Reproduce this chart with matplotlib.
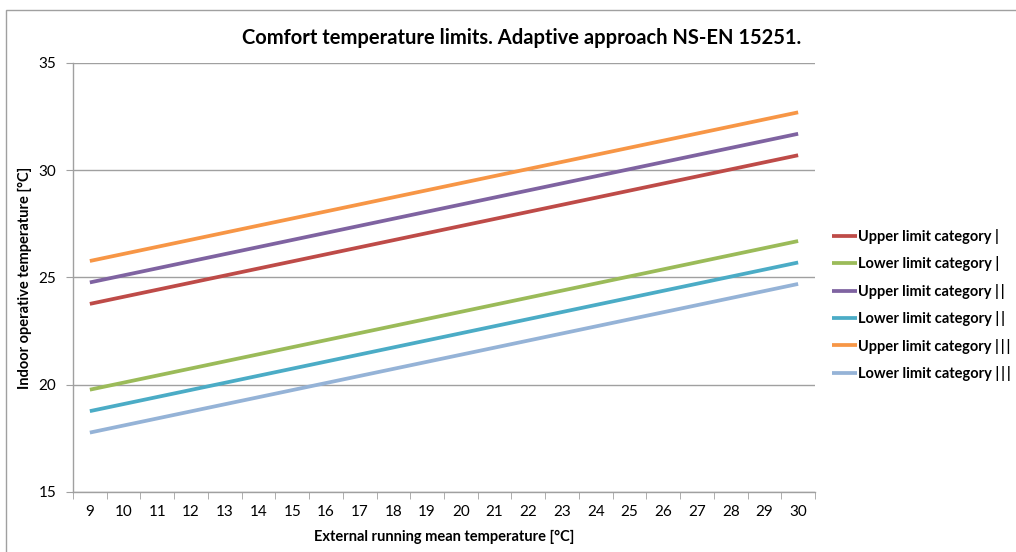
import matplotlib
matplotlib.use("Agg")
import matplotlib.pyplot as plt
from matplotlib.patches import Rectangle

plt.rcParams['font.family'] = ['Lato', 'DejaVu Sans']

temps = list(range(9, 31))
upper_1 = [23.77, 24.10, 24.43, 24.76, 25.09, 25.42, 25.75, 26.08, 26.41, 26.74, 27.07,
           27.40, 27.73, 28.06, 28.39, 28.72, 29.05, 29.38, 29.71, 30.04, 30.37, 30.70]
lower_1 = [19.77, 20.10, 20.43, 20.76, 21.09, 21.42, 21.75, 22.08, 22.41, 22.74, 23.07,
           23.40, 23.73, 24.06, 24.39, 24.72, 25.05, 25.38, 25.71, 26.04, 26.37, 26.70]
upper_2 = [24.77, 25.10, 25.43, 25.76, 26.09, 26.42, 26.75, 27.08, 27.41, 27.74, 28.07,
           28.40, 28.73, 29.06, 29.39, 29.72, 30.05, 30.38, 30.71, 31.04, 31.37, 31.70]
lower_2 = [18.77, 19.10, 19.43, 19.76, 20.09, 20.42, 20.75, 21.08, 21.41, 21.74, 22.07,
           22.40, 22.73, 23.06, 23.39, 23.72, 24.05, 24.38, 24.71, 25.04, 25.37, 25.70]
upper_3 = [25.77, 26.10, 26.43, 26.76, 27.09, 27.42, 27.75, 28.08, 28.41, 28.74, 29.07,
           29.40, 29.73, 30.06, 30.39, 30.72, 31.05, 31.38, 31.71, 32.04, 32.37, 32.70]
lower_3 = [17.77, 18.10, 18.43, 18.76, 19.09, 19.42, 19.75, 20.08, 20.41, 20.74, 21.07,
           21.40, 21.73, 22.06, 22.39, 22.72, 23.05, 23.38, 23.71, 24.04, 24.37, 24.70]

series_names = ["Upper limit category |", "Lower limit category |",
                "Upper limit category |\u2009|", "Lower limit category |\u2009|",
                "Upper limit category |\u2009|\u2009|", "Lower limit category |\u2009|\u2009|"]
series = [upper_1, lower_1, upper_2, lower_2, upper_3, lower_3]
colors = ["#BE4B48", "#9BBB59", "#7F63A1", "#4BACC6", "#F79646", "#95B3D7"]
y_ticks = [15, 20, 25, 30, 35]

W, H = 1016, 552
fig = plt.figure(figsize=(W / 100, H / 100), dpi=100)
fig.patch.set_facecolor("white")

# chart-area border
fig.add_artist(Rectangle((6 / W, -0.05), 1.1, (H - 10) / H + 0.05, transform=fig.transFigure,
                         fill=False, edgecolor="#A0A0A0", linewidth=1.0))

left, right, top, bottom = 73, 815, 63, 492
ax = fig.add_axes([left / W, 1 - bottom / H, (right - left) / W, (bottom - top) / H])

x = list(range(len(temps)))
for vals, name, c in zip(series, series_names, colors):
    ax.plot(x, vals, color=c, linewidth=2.7, label=name, solid_capstyle="butt")

ax.set_xlim(-0.5, len(temps) - 0.5)
ax.set_ylim(15, 35)
ax.set_yticks(y_ticks)
ax.set_yticklabels([str(v) for v in y_ticks])
ax.set_xticks(x)
ax.set_xticklabels([str(t) for t in temps])
ax.set_xticks([i - 0.5 for i in range(len(temps) + 1)], minor=True)
ax.tick_params(axis="x", which="major", length=0, pad=9, labelsize=11)
ax.tick_params(axis="x", which="minor", length=5, color="#A0A0A0", direction="out")
ax.tick_params(axis="y", length=5, color="#A0A0A0", direction="out", pad=7, labelsize=11)

ax.grid(axis="y", color="#A0A0A0", linewidth=1.0)
ax.set_axisbelow(True)
for s in ["top", "right"]:
    ax.spines[s].set_visible(False)
for s in ["left", "bottom"]:
    ax.spines[s].set_color("#A0A0A0")
    ax.spines[s].set_linewidth(1.0)

ax.set_xlabel("External running mean temperature [°C]", fontsize=10.5, fontweight="bold", labelpad=8)
ax.set_ylabel("Indoor operative temperature [°C]", fontsize=10.5, fontweight="bold", labelpad=5)

fig.text(522 / W, 1 - 38 / H, "Comfort temperature limits. Adaptive approach NS-EN 15251.",
         ha="center", va="center", fontsize=14.5, fontweight="bold")

leg = ax.legend(loc="center left", bbox_to_anchor=(819 / W, 1 - 305 / H),
                bbox_transform=fig.transFigure, frameon=False,
                prop={"weight": "bold", "size": 10.5}, handlelength=1.7,
                handletextpad=0.1, labelspacing=0.85)

fig.savefig("out.png", dpi=100)
